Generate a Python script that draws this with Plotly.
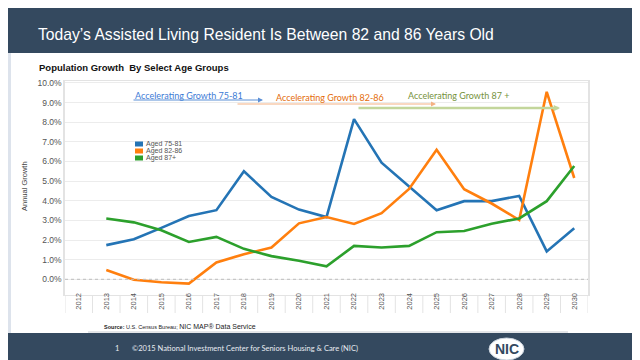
import plotly.graph_objects as go

years = list(range(2012, 2031))
series_names = ["Aged 75-81", "Aged 82-86", "Aged 87+"]
aged_75_81 = [None, 1.74, 2.04, 2.62, 3.22, 3.52, 5.5, 4.2, 3.55, 3.17, 8.16, 5.94, 4.75, 3.52, 3.98, 3.98, 4.25, 1.42, 2.6]
aged_82_86 = [None, 0.47, -0.02, -0.15, -0.22, 0.86, 1.28, 1.62, 2.85, 3.17, 2.82, 3.37, 4.6, 6.6, 4.59, 3.86, 3.02, 9.55, 5.16]
aged_87p = [None, 3.1, 2.9, 2.5, 1.9, 2.16, 1.55, 1.18, 0.94, 0.66, 1.7, 1.62, 1.7, 2.4, 2.46, 2.83, 3.1, 3.98, 5.77]
y_ticks = [0, 1, 2, 3, 4, 5, 6, 7, 8, 9, 10]

colors = ["#2474b5", "#ff7f0e", "#2ca02c"]
NAVY = "#34495f"

W_FIG, H_FIG = 640, 360
L, R, T, B = 57, 580, 73, 287
PW, PH = R - L, B - T


def px(x):
    return (x - L) / PW


def py(y):
    return (B - y) / PH


fig = go.Figure()
for name, vals, c in zip(series_names, [aged_75_81, aged_82_86, aged_87p], colors):
    fig.add_trace(go.Scatter(x=years, y=vals, mode="lines", name=name,
                             line=dict(color=c, width=2.6), showlegend=False))

shapes = []
ann = []

# navy bands
shapes.append(dict(type="rect", xref="paper", yref="paper", x0=px(0), x1=px(640), y0=py(45), y1=py(0),
                   fillcolor=NAVY, line=dict(width=0), layer="below"))
shapes.append(dict(type="rect", xref="paper", yref="paper", x0=px(0), x1=px(640), y0=py(360), y1=py(325),
                   fillcolor=NAVY, line=dict(width=0), layer="below"))
# thin left edge
shapes.append(dict(type="rect", xref="paper", yref="paper", x0=px(0), x1=px(3), y0=py(325), y1=py(45),
                   fillcolor="#dde3ec", line=dict(width=0), layer="below"))
# panel bottom line
shapes.append(dict(type="line", xref="paper", yref="paper", x0=px(80), x1=px(560), y0=py(324), y1=py(324),
                   line=dict(color="#c8ccd2", width=1)))

# zero line dotted
shapes.append(dict(type="line", xref="paper", yref="y", x0=0, x1=1, y0=0, y1=0,
                   line=dict(color="#bdbdbd", width=1, dash="dot")))

# category separators below axis
for yr in years + [years[-1] + 1]:
    shapes.append(dict(type="line", xref="x", yref="paper", x0=yr - 0.5, x1=yr - 0.5, y0=py(305), y1=0,
                       line=dict(color="#e3e3e3", width=1)))

# title
ann.append(dict(text="Today\u2019s Assisted Living Resident Is Between 82 and 86 Years Old", xref="paper", yref="paper",
                x=px(28), y=py(26), xanchor="left", yanchor="middle", showarrow=False,
                font=dict(family="Liberation Sans, Arial", size=15.7, color="white")))
ann.append(dict(text="<b>Population Growth  By Select Age Groups</b>", xref="paper", yref="paper",
                x=px(29), y=py(59), xanchor="left", yanchor="middle", showarrow=False,
                font=dict(family="Liberation Sans, Arial", size=9.5, color="#111111")))

# y axis title
ann.append(dict(text="Annual Growth", xref="paper", yref="paper", x=px(16), y=py(178), textangle=-90,
                xanchor="center", yanchor="middle", showarrow=False,
                font=dict(family="Liberation Sans Narrow, Liberation Sans, Arial", size=7.5, color="#444444")))

# legend (manual, compact)
for i, (name, c) in enumerate(zip(series_names, colors)):
    yc = 136 + i * 7
    shapes.append(dict(type="rect", xref="paper", yref="paper", x0=px(127), x1=px(135), y0=py(yc + 2.5), y1=py(yc - 2.5),
                       fillcolor=c, line=dict(width=0)))
    ann.append(dict(text=name, xref="paper", yref="paper", x=px(137), y=py(yc), xanchor="left", yanchor="middle",
                    showarrow=False, borderpad=0,
                    font=dict(family="Liberation Sans, Arial", size=7, color="#555555")))

# accelerating growth labels and arrows
acc = [
    ("Accelerating Growth 75-81", "#3d7bd6", 181, 87.5, 124, 255, 92, "#5b8fd6", 1, 1),
    ("Accelerating Growth 82-86", "#e46c0a", 322, 89, 228, 428, 96, "#f4b183", 1, 1),
    ("Accelerating Growth 87 +", "#76923c", 450, 88, 349, 552, 100, "#c3d69b", 2.5, 0.5),
]
for text, tc, tx, ty, x0, x1, ya, ac, aw, asz in acc:
    ann.append(dict(text=text, xref="paper", yref="paper", x=px(tx), y=py(ty), xanchor="center", yanchor="middle",
                    showarrow=False, font=dict(family="Lato, Open Sans", size=9, color=tc)))
    ann.append(dict(text="", xref="paper", yref="paper", x=px(x1), y=py(ya), ax=x0 - x1, ay=0,
                    showarrow=True, arrowhead=2, arrowsize=asz, arrowwidth=aw, arrowcolor=ac, standoff=0))

# source
ann.append(dict(text="<b>Source:</b> U.S. Census Bureau; <span style='font-size:7px'>NIC MAP\u00ae Data Service</span>",
                xref="paper", yref="paper", x=px(94), y=py(318.5), xanchor="left", yanchor="middle", showarrow=False,
                font=dict(family="Liberation Sans, Arial", size=5.5, color="#222222")))

# footer
ann.append(dict(text="1", xref="paper", yref="paper", x=px(109), y=py(340), xanchor="center", yanchor="middle",
                showarrow=False, font=dict(family="Lato, Open Sans", size=7.5, color="#e8ecf2")))
ann.append(dict(text="\u00a92015 National Investment Center for Seniors Housing & Care (NIC)", xref="paper", yref="paper",
                x=px(122), y=py(340), xanchor="left", yanchor="middle", showarrow=False,
                font=dict(family="Lato, Open Sans", size=7.5, color="#e8ecf2")))
shapes.append(dict(type="circle", xref="paper", yref="paper", x0=px(481), x1=px(516), y0=py(352), y1=py(330),
                   fillcolor="white", line=dict(color="#c9d2dd", width=1)))
ann.append(dict(text="<b>NIC</b>", xref="paper", yref="paper", x=px(498.5), y=py(341), xanchor="center", yanchor="middle",
                showarrow=False, font=dict(family="Liberation Sans Narrow, Liberation Sans, Arial", size=14, color=NAVY)))

fig.update_layout(
    width=W_FIG, height=H_FIG,
    margin=dict(l=L, r=W_FIG - R, t=T, b=H_FIG - B, pad=0),
    paper_bgcolor="white", plot_bgcolor="white",
    showlegend=False,
    shapes=shapes, annotations=ann,
    xaxis=dict(range=[years[0] - 0.5, years[-1] + 0.5], tickmode="array", tickvals=years,
               ticktext=[str(y) for y in years], tickangle=-90, showgrid=False, zeroline=False,
               showline=True, linecolor="#e3e3e3", linewidth=1, mirror=True, ticks="",
               ticklabelstandoff=-6,
               tickfont=dict(family="Liberation Sans Narrow, Liberation Sans, Arial", size=7.5, color="#555555")),
    yaxis=dict(range=[-0.8, 10.1], tickmode="array", tickvals=y_ticks,
               ticktext=[f"{v:.1f}%" for v in y_ticks], showgrid=True, gridcolor="#ececec", gridwidth=1,
               zeroline=False, showline=True, linecolor="#e3e3e3", linewidth=1.5, mirror=True, ticks="",
               tickfont=dict(family="Liberation Sans, Arial", size=8.5, color="#555555")),
)

fig.write_html("out.html")
